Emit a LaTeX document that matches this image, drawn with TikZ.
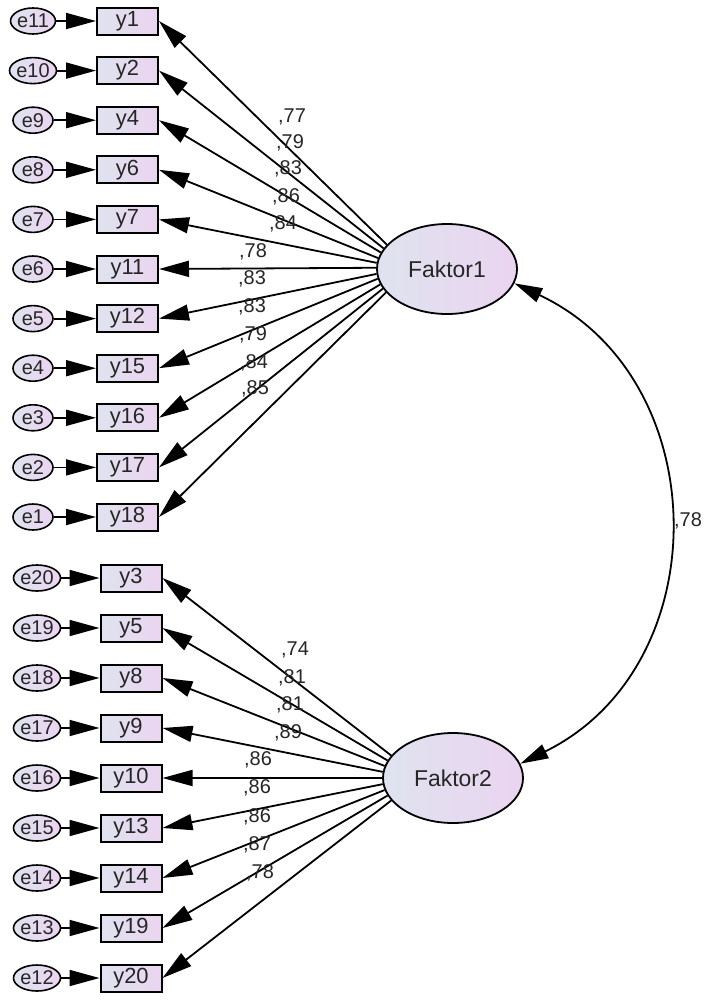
\documentclass[tikz,border=0pt]{standalone}
\usepackage{fontspec}
\setmainfont{Liberation Sans}
\usetikzlibrary{arrows.meta, shapes.geometric}

\definecolor{fillL}{HTML}{DFE3EF}
\definecolor{fillR}{HTML}{EBD4F0}

\tikzset{
    obs/.style={draw, line width=2bp, minimum width=61bp, minimum height=27bp, inner sep=0pt,
        left color=fillL, right color=fillR, text=black!85, font=\fontsize{22}{22}\selectfont},
    err/.style={draw, ellipse, line width=1.6bp, minimum width=40bp, minimum height=26bp, inner sep=0pt,
        left color=fillL, right color=fillR, text=black!85, font=\fontsize{20}{20}\selectfont},
    latent/.style={draw, ellipse, line width=1.8bp, minimum width=140bp, minimum height=90bp, inner sep=0pt,
        left color=fillL, right color=fillR, text=black!85, font=\fontsize{23}{23}\selectfont},
    load/.style={line width=1.8bp, -{Triangle[length=30bp, width=16bp]}},
    coef/.style={inner sep=0pt, text=black!85, font=\fontsize{20}{20}\selectfont}
}

\begin{document}
\begin{tikzpicture}[x=1bp, y=-1bp]
        \useasboundingbox (0, 0) rectangle (704, 1001);

        % Faktor1 block
        \node[latent] (f1) at (447, 269) {Faktor1};
        \foreach \v/\e [count=\i from 0] in {1/11, 2/10, 4/9, 6/8, 7/7, 11/6, 12/5, 15/4, 16/3, 17/2, 18/1} {
            \node[obs] (y\v) at (127.5, {21 + 49.6*\i}) {y\v};
            \node[err] (e\e) at (33, {21 + 49.6*\i}) {e\e};
            \draw[load] (e\e) -- (y\v);
            \pgfmathtruncatemacro\ang{158 + 4.4*\i}
            \draw[load] (f1.\ang) -- (y\v.east);
        }
        \foreach \x/\y/\c [count=\i] in {292/117/77, 290/143/79, 288/169/83, 286/197/86, 283/224/84,
                253/252/78, 252/279/83, 252/307/83, 253/335/79, 254/363/84, 255/389/85}
            \node[coef] (a\i) at (\x, \y) {,\c};

        % Faktor2 block
        \node[latent] (f2) at (453, 778) {Faktor2};
        \foreach \v/\e [count=\i from 0] in {3/20, 5/19, 8/18, 9/17, 10/16, 13/15, 14/14, 19/13, 20/12} {
            \node[obs] (y\v) at (131, {578 + 50*\i}) {y\v};
            \node[err] (e\e) at (37, {578 + 50*\i}) {e\e};
            \draw[load] (e\e) -- (y\v);
            \pgfmathtruncatemacro\ang{160 + 5*\i}
            \draw[load] (f2.\ang) -- (y\v.east);
        }
        \foreach \x/\y/\c [count=\i] in {295/650/74, 292/678/81, 290/705/81, 288/733/89,
                258/760/86, 257/788/86, 257/817/86, 257/845/87, 260/873/78}
            \node[coef] (b\i) at (\x, \y) {,\c};

        % covariance
        \draw[line width=1.8bp, {Triangle[length=28bp, width=15bp]}-{Triangle[length=28bp, width=15bp]}]
            (f1.-12) .. controls (716, 378) and (719, 666) .. (f2.12);
        \node[coef] (r12) at (688, 521) {,78};
    \end{tikzpicture}
\end{document}
